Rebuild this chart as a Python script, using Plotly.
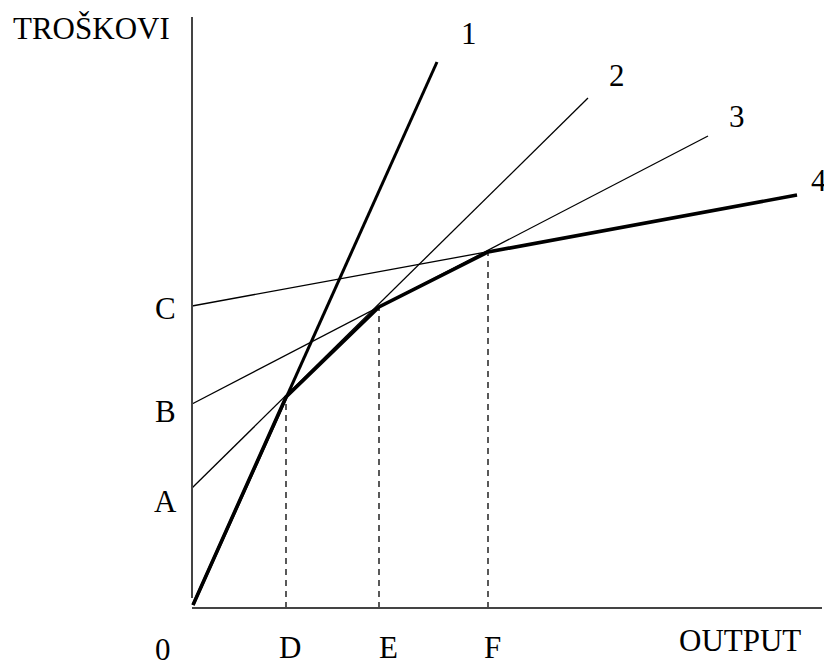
import plotly.graph_objects as go

# --- data (cost units) ---
line_names = ["1", "2", "3", "4"]
fixed_costs = [0.1, 11.8, 20.2, 30.0]          # intercepts: 0, A, B, C
line_end_x = [24.5, 39.6, 51.6, 60.5]
line_end_y = [54.4, 50.8, 47.0, 41.1]

kink_labels = ["D", "E", "F"]
kink_x = [9.4, 18.7, 29.6]
kink_y = [20.9, 29.9, 35.4]

intercept_labels = ["A", "B", "C"]
intercept_values = [11.8, 20.2, 30.0]

fig = go.Figure()

BLACK = "#000000"
line_widths = [3, 1.3, 1.3, 1.3]

# cost lines
for i, name in enumerate(line_names):
    fig.add_trace(go.Scatter(
        x=[0 if i else 0.1, line_end_x[i]],
        y=[fixed_costs[i], line_end_y[i]],
        mode="lines", line=dict(color=BLACK, width=line_widths[i]),
        hoverinfo="skip", showlegend=False))

# envelope (long-run cost curve)
env_x = [0.1] + kink_x + [line_end_x[3]]
env_y = [fixed_costs[0]] + kink_y + [line_end_y[3]]
fig.add_trace(go.Scatter(x=env_x, y=env_y, mode="lines",
                         line=dict(color=BLACK, width=3.6),
                         hoverinfo="skip", showlegend=False))

# dashed verticals
for kx, ky in zip(kink_x, kink_y):
    fig.add_trace(go.Scatter(x=[kx, kx], y=[-0.2, ky], mode="lines",
                             line=dict(color=BLACK, width=1.3, dash="6px,5px"),
                             hoverinfo="skip", showlegend=False))

# axes drawn as lines
fig.add_trace(go.Scatter(x=[0, 0], y=[0.8, 58.9], mode="lines",
                         line=dict(color="#444444", width=2),
                         hoverinfo="skip", showlegend=False))
fig.add_trace(go.Scatter(x=[0, 63.0], y=[-0.2, -0.2], mode="lines",
                         line=dict(color="#444444", width=2),
                         hoverinfo="skip", showlegend=False))

FONT = dict(family="Liberation Serif, Times New Roman, serif", size=31, color=BLACK)
ann = []
def add(text, x, y, xanchor="center"):
    ann.append(dict(text=text, x=x, y=y, xref="x", yref="y", showarrow=False,
                    xanchor=xanchor, yanchor="middle", font=FONT))

add("TROŠKOVI", -10.1, 57.8)
add("OUTPUT", 54.8, -3.4)
add("0", -2.9, -4.3)
for lab, kx in zip(kink_labels, [9.8, 19.6, 30.0]):
    add(lab, kx, -4.1)
for lab, yv, dy in zip(intercept_labels, intercept_values, [-1.3, -0.7, -0.2]):
    add(lab, -2.7, yv + dy)
for lab, xy in zip(line_names, [(27.7, 57.3), (42.5, 53.1), (54.5, 49.0), (62.7, 42.6)]):
    add(lab, xy[0], xy[1])

# page body has an 8px margin: figure spans page pixels 8..832 x 8..661
fig.update_layout(
    width=824, height=653, autosize=False,
    margin=dict(l=0, r=0, t=0, b=0),
    paper_bgcolor="white", plot_bgcolor="white",
    xaxis=dict(range=[-18.4, 64.0], visible=False, fixedrange=True),
    yaxis=dict(range=[-5.5, 59.8], visible=False, fixedrange=True),
    annotations=ann,
)

fig.write_html("out.html")
